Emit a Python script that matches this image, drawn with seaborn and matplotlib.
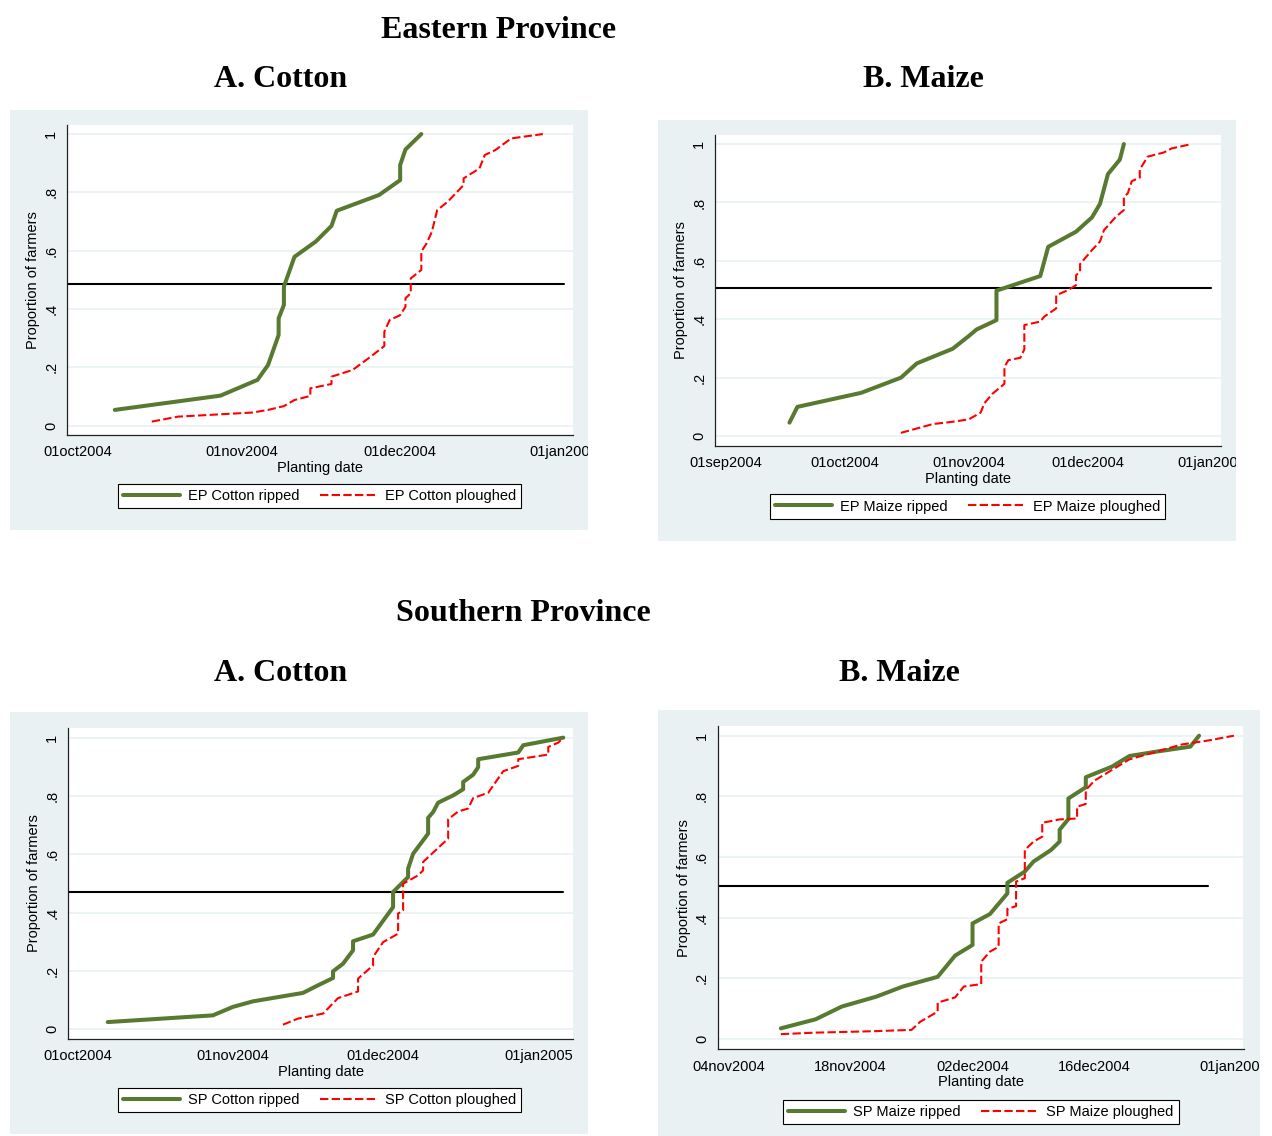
import matplotlib
matplotlib.use('Agg')
import matplotlib.pyplot as plt
import seaborn as sns
import pandas as pd
from matplotlib.patches import Rectangle
from matplotlib.transforms import Bbox, TransformedBbox

# ---- data (days after each panel's base date) ----
# Eastern Province, cotton (base 01oct2004)
ep_cotton_base = '2004-10-01'
ep_cotton_ripped_day = [7, 27, 34, 36, 38, 38, 39, 39, 41, 45, 48, 49, 57, 61, 61, 62, 65]
ep_cotton_ripped_prop = [0.054, 0.103, 0.157, 0.208, 0.311, 0.368, 0.414, 0.477, 0.579,
                         0.631, 0.685, 0.737, 0.791, 0.842, 0.894, 0.947, 1.0]
ep_cotton_ploughed_day = [14, 19, 27, 33, 36, 39, 41, 44, 44, 48, 48, 52, 55, 58, 58, 59, 61,
                          62, 62, 63, 63, 65, 65, 66, 67, 68, 70, 71, 73, 73, 76, 77, 79, 82, 88]
ep_cotton_ploughed_prop = [0.014, 0.031, 0.039, 0.045, 0.054, 0.067, 0.088, 0.102, 0.128,
                           0.143, 0.168, 0.191, 0.231, 0.273, 0.322, 0.362, 0.379, 0.408,
                           0.437, 0.454, 0.505, 0.534, 0.597, 0.625, 0.665, 0.739, 0.768,
                           0.787, 0.825, 0.848, 0.882, 0.928, 0.945, 0.985, 1.0]

# Eastern Province, maize (base 01sep2004)
ep_maize_base = '2004-09-01'
ep_maize_ripped_day = [16, 18, 34, 44, 48, 57, 61, 63, 68, 68, 79, 81, 88, 92, 94, 96, 99, 100]
ep_maize_ripped_prop = [0.046, 0.100, 0.148, 0.200, 0.249, 0.299, 0.342, 0.365, 0.397,
                        0.498, 0.548, 0.648, 0.700, 0.749, 0.795, 0.897, 0.947, 1.0]
ep_maize_ploughed_day = [44, 48, 52, 57, 61, 64, 65, 67, 70, 70, 71, 74, 75, 75, 79, 80, 83,
                         83, 86, 88, 88, 89, 89, 92, 94, 95, 98, 100, 100, 101, 102, 104,
                         104, 106, 110, 112, 117]
ep_maize_ploughed_prop = [0.011, 0.026, 0.041, 0.049, 0.057, 0.080, 0.113, 0.145, 0.179,
                          0.237, 0.260, 0.268, 0.297, 0.380, 0.392, 0.409, 0.437, 0.482,
                          0.500, 0.517, 0.551, 0.563, 0.589, 0.637, 0.666, 0.705, 0.751,
                          0.774, 0.817, 0.832, 0.873, 0.885, 0.913, 0.957, 0.971, 0.985, 1.0]

# Southern Province, cotton (base 01oct2004)
sp_cotton_base = '2004-10-01'
sp_cotton_ripped_day = [6, 27, 31, 35, 45, 48, 51, 51, 53, 55, 55, 59, 63, 63, 66, 66, 67,
                        70, 70, 71, 72, 75, 77, 77, 79, 80, 80, 88, 89, 97]
sp_cotton_ripped_prop = [0.025, 0.048, 0.077, 0.096, 0.125, 0.151, 0.176, 0.199, 0.225,
                         0.271, 0.302, 0.325, 0.419, 0.471, 0.522, 0.551, 0.602, 0.671,
                         0.725, 0.745, 0.777, 0.802, 0.823, 0.848, 0.873, 0.899, 0.926,
                         0.949, 0.974, 1.0]
sp_cotton_ploughed_day = [41, 44, 49, 52, 56, 56, 59, 59, 61, 64, 64, 65, 65, 68, 69, 69, 74,
                          74, 76, 78, 79, 82, 85, 88, 88, 94, 94, 96, 97]
sp_cotton_ploughed_prop = [0.016, 0.037, 0.054, 0.107, 0.130, 0.174, 0.219, 0.248, 0.299,
                           0.328, 0.397, 0.408, 0.499, 0.528, 0.545, 0.574, 0.654, 0.720,
                           0.747, 0.757, 0.793, 0.811, 0.885, 0.903, 0.926, 0.942, 0.968,
                           0.983, 1.0]

# Southern Province, maize (base 04nov2004)
sp_maize_base = '2004-11-04'
sp_maize_ripped_day = [6, 10, 13, 17, 20, 24, 26, 28, 28, 30, 32, 32, 34, 35, 37, 38, 38, 39,
                       39, 41, 41, 44, 46, 49, 53, 54]
sp_maize_ripped_prop = [0.035, 0.065, 0.107, 0.140, 0.173, 0.205, 0.275, 0.310, 0.381,
                        0.412, 0.480, 0.515, 0.552, 0.585, 0.623, 0.651, 0.690, 0.725,
                        0.793, 0.830, 0.863, 0.898, 0.933, 0.947, 0.964, 1.0]
sp_maize_ploughed_day = [6, 10, 13, 17, 21, 22, 24, 24, 26, 27, 29, 29, 30, 31, 31, 32, 32,
                         33, 33, 34, 34, 35, 36, 36, 38, 40, 40, 41, 41, 42, 46, 52, 55, 58]
sp_maize_ploughed_prop = [0.016, 0.021, 0.023, 0.026, 0.030, 0.057, 0.090, 0.120, 0.137,
                          0.173, 0.181, 0.255, 0.288, 0.304, 0.381, 0.395, 0.429, 0.438,
                          0.519, 0.530, 0.623, 0.651, 0.667, 0.713, 0.724, 0.727, 0.766,
                          0.775, 0.821, 0.852, 0.922, 0.971, 0.984, 1.0]

# median reference lines (level, end date)
median_level = [0.486, 0.508, 0.471, 0.505]
median_end = ['2005-01-01', '2005-01-01', '2005-01-06', '2004-12-29']

y_ticks = [0, 0.2, 0.4, 0.6, 0.8, 1.0]
y_ticklabels = ['0', '.2', '.4', '.6', '.8', '1']

ep_cotton_xticks = ['2004-10-01', '2004-11-01', '2004-12-01', '2005-01-01']
ep_maize_xticks = ['2004-09-01', '2004-10-01', '2004-11-01', '2004-12-01', '2005-01-01']
sp_cotton_xticks = ['2004-10-01', '2004-11-01', '2004-12-01', '2005-01-01']
sp_maize_xticks = ['2004-11-04', '2004-11-18', '2004-12-02', '2004-12-16', '2005-01-01']

# ---- styling ----
W, H = 1272, 1136
BG = '#e9f1f3'
GREEN = '#587a30'
RED = '#ff0000'

sns.set_style('white')
plt.rcParams['font.family'] = ['Liberation Sans', 'DejaVu Sans']
plt.rcParams['text.color'] = 'black'
plt.rcParams['axes.labelcolor'] = 'black'

fig = plt.figure(figsize=(W / 100, H / 100), dpi=100)


def fig_box(l, t, r, b):
    return [l / W, 1 - b / H, (r - l) / W, (b - t) / H]


def to_dates(base, days):
    return pd.Timestamp(base) + pd.to_timedelta(days, unit='D')


panels = [
    dict(bg=(10, 110, 588, 530), box=(67.4, 125, 573.3, 435), ylim=(-0.032, 1.031),
         base=ep_cotton_base, xlim=(-1.97, 93.76), xticks=ep_cotton_xticks,
         rd=ep_cotton_ripped_day, rp=ep_cotton_ripped_prop,
         pd_=ep_cotton_ploughed_day, pp=ep_cotton_ploughed_prop,
         names=('EP Cotton ripped', 'EP Cotton ploughed'), leg=(319.5, 496)),
    dict(bg=(658, 120, 1236, 541), box=(715.4, 135, 1220.6, 445.7), ylim=(-0.033, 1.031),
         base=ep_maize_base, xlim=(-2.6, 124.3), xticks=ep_maize_xticks,
         rd=ep_maize_ripped_day, rp=ep_maize_ripped_prop,
         pd_=ep_maize_ploughed_day, pp=ep_maize_ploughed_prop,
         names=('EP Maize ripped', 'EP Maize ploughed'), leg=(967.5, 506.5)),
    dict(bg=(10, 712, 588, 1134), box=(68.2, 728, 573.3, 1038.7), ylim=(-0.032, 1.033),
         base=sp_cotton_base, xlim=(-1.9, 99.0), xticks=sp_cotton_xticks,
         rd=sp_cotton_ripped_day, rp=sp_cotton_ripped_prop,
         pd_=sp_cotton_ploughed_day, pp=sp_cotton_ploughed_prop,
         names=('SP Cotton ripped', 'SP Cotton ploughed'), leg=(319.5, 1100)),
    dict(bg=(658, 710, 1260, 1136), box=(718.1, 726, 1243.5, 1049.3), ylim=(-0.034, 1.032),
         base=sp_maize_base, xlim=(-1.2, 59.1), xticks=sp_maize_xticks,
         rd=sp_maize_ripped_day, rp=sp_maize_ripped_prop,
         pd_=sp_maize_ploughed_day, pp=sp_maize_ploughed_prop,
         names=('SP Maize ripped', 'SP Maize ploughed'), leg=(981, 1112)),
]

for i, p in enumerate(panels):
    l, t, r, b = p['bg']
    fig.patches.append(Rectangle((l / W, 1 - b / H), (r - l) / W, (b - t) / H,
                                 transform=fig.transFigure, facecolor=BG,
                                 edgecolor='none', zorder=-10))
    ax = fig.add_axes(fig_box(*p['box']))
    ax.set_facecolor('white')

    ripped = pd.DataFrame({'date': to_dates(p['base'], p['rd']), 'prop': p['rp']})
    ploughed = pd.DataFrame({'date': to_dates(p['base'], p['pd_']), 'prop': p['pp']})

    sns.lineplot(data=ripped, x='date', y='prop', sort=False, estimator=None,
                 color=GREEN, lw=2.9, ax=ax, label=p['names'][0], zorder=3)
    sns.lineplot(data=ploughed, x='date', y='prop', sort=False, estimator=None,
                 color=RED, lw=1.5, linestyle=(0, (4, 1.6)), ax=ax,
                 label=p['names'][1], zorder=3)

    x0 = pd.Timestamp(p['base']) + pd.Timedelta(days=p['xlim'][0])
    x1 = pd.Timestamp(p['base']) + pd.Timedelta(days=p['xlim'][1])
    ax.plot([x0, pd.Timestamp(median_end[i])], [median_level[i]] * 2,
            color='black', lw=1.5, zorder=2)

    ax.set_xlim(x0, x1)
    ax.set_ylim(*p['ylim'])
    ax.set_yticks(y_ticks)
    ax.set_yticklabels(y_ticklabels)
    xt = [pd.Timestamp(d) for d in p['xticks']]
    ax.set_xticks(xt)
    ax.set_xticklabels([d.strftime('%d%b%Y').lower() for d in xt])

    ax.yaxis.grid(True, color=BG, lw=1.2)
    ax.xaxis.grid(False)
    ax.set_axisbelow(True)
    for s in ['top', 'right']:
        ax.spines[s].set_visible(False)
    for s in ['left', 'bottom']:
        ax.spines[s].set_color('#222222')
        ax.spines[s].set_linewidth(0.9)
    ax.tick_params(axis='both', direction='out', length=4.5, width=0.8,
                   color='#222222', labelsize=10.5, labelcolor='black')
    ax.tick_params(axis='y', labelrotation=90, pad=2)
    ax.tick_params(axis='x', pad=3)
    for lbl in ax.get_yticklabels():
        lbl.set_va('center')
    ax.set_xlabel('Planting date', fontsize=10.5, labelpad=1)
    ax.set_ylabel('Proportion of farmers', fontsize=10.5, labelpad=3)

    # tick labels are cut at the panel edge, as in the original
    clip = TransformedBbox(Bbox.from_extents(l / W, 1 - b / H, r / W, 1 - t / H),
                           fig.transFigure)
    for lbl in ax.get_xticklabels():
        lbl.set_clip_box(clip)
        lbl.set_clip_on(True)

    handles, labels = ax.get_legend_handles_labels()
    cx, cy = p['leg']
    leg = ax.legend(handles[:2], labels[:2], loc='center',
                    bbox_to_anchor=(cx / W, 1 - cy / H), bbox_transform=fig.transFigure,
                    ncol=2, frameon=True, fancybox=False, framealpha=1,
                    edgecolor='black', fontsize=10.5, handlelength=3.9,
                    handletextpad=0.55, columnspacing=1.4, borderpad=0.35)
    leg.get_frame().set_linewidth(0.8)

title_kw = dict(family=['Liberation Serif', 'DejaVu Serif'], fontweight='bold',
                fontsize=23, ha='center', va='baseline', color='black')
fig.text(499 / W, 1 - 38 / H, 'Eastern Province', **title_kw)
fig.text(281 / W, 1 - 87 / H, 'A. Cotton', **title_kw)
fig.text(923 / W, 1 - 87 / H, 'B. Maize', **title_kw)
fig.text(523 / W, 1 - 621 / H, 'Southern Province', **title_kw)
fig.text(281 / W, 1 - 681 / H, 'A. Cotton', **title_kw)
fig.text(899 / W, 1 - 681 / H, 'B. Maize', **title_kw)

fig.savefig('out.png', dpi=100)
